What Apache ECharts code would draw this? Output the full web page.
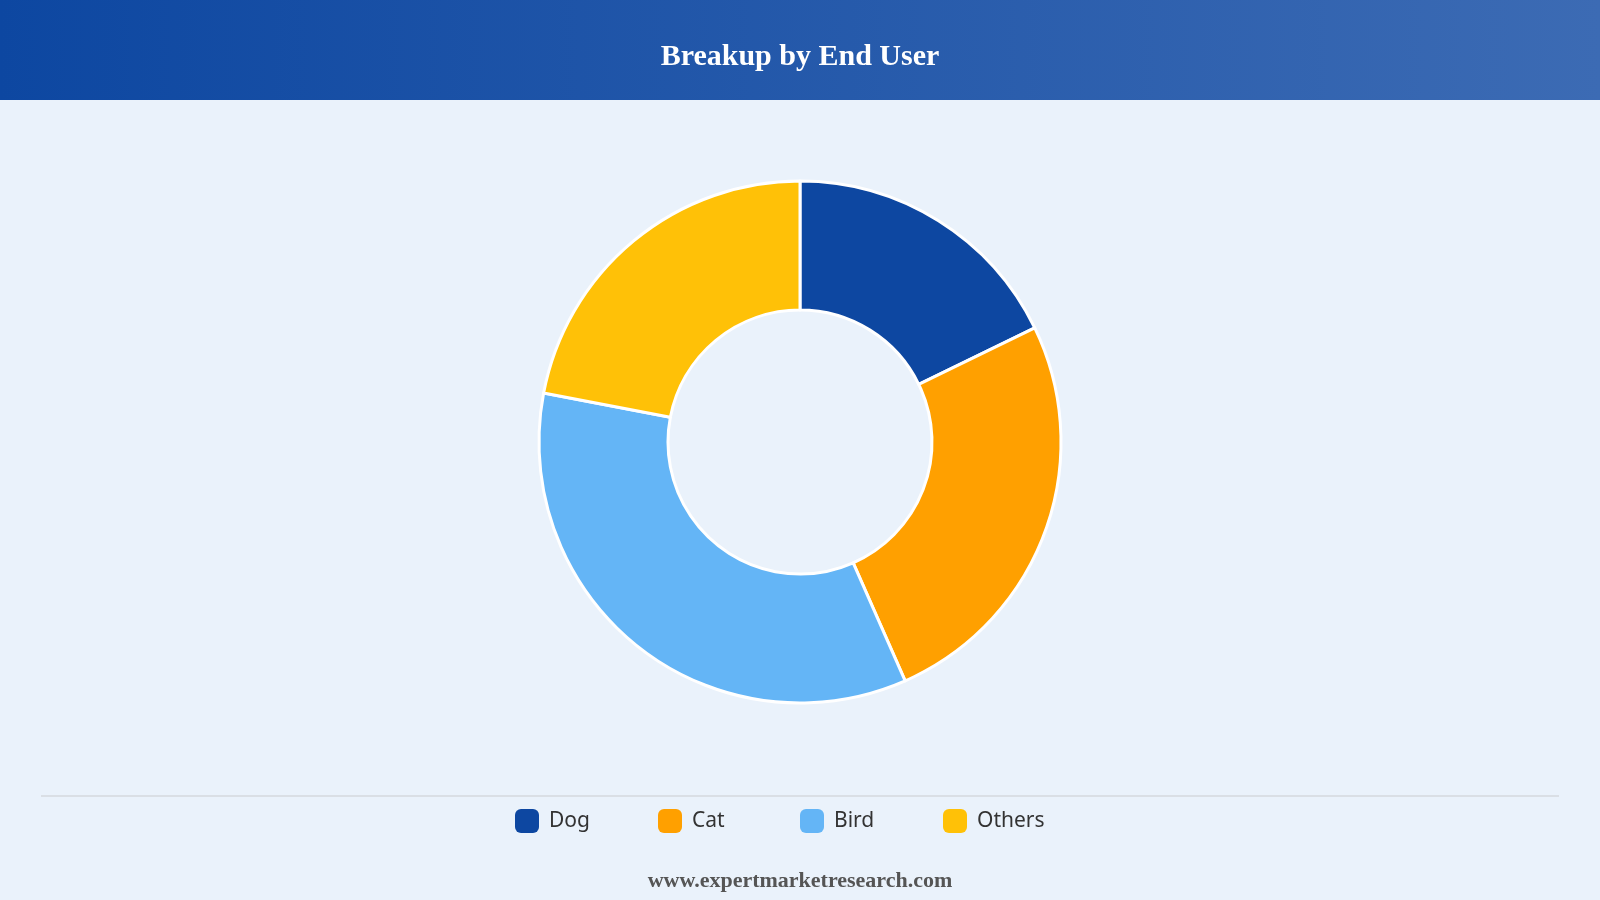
<!DOCTYPE html>
<html>
<head>
<meta charset="utf-8">
<script src="https://cdn.jsdelivr.net/npm/echarts@6/dist/echarts.min.js"></script>
<style>
html,body{margin:0;padding:0;background:#eaf2fb;}
#chart{width:1600px;height:900px;}
</style>
</head>
<body>
<div id="chart"></div>
<script>
const categories = ['Dog', 'Cat', 'Bird', 'Others'];
const values = [17.8, 25.6, 34.6, 22.0];
const colors = ['#0d47a1', '#ffa000', '#64b5f6', '#ffc107'];
const titleText = 'Breakup by End User';
const footerText = 'www.expertmarketresearch.com';

const legendLeft0 = 515;
const legendStep = 142.5;

const chart = echarts.init(document.getElementById('chart'), null, {renderer: 'canvas'});
chart.setOption({
  backgroundColor: '#eaf2fb',
  animation: false,
  graphic: [
    {
      type: 'rect', left: 0, top: 0, z: 0,
      shape: {width: 1600, height: 100},
      style: {
        fill: new echarts.graphic.LinearGradient(0, 0, 1, 0, [
          {offset: 0, color: '#0d47a1'},
          {offset: 1, color: '#3c6bb4'}
        ])
      }
    },
    {
      type: 'line', z: 1,
      shape: {x1: 41, y1: 796, x2: 1559, y2: 796},
      style: {stroke: '#d5d9de', lineWidth: 1.5}
    },
    {
      type: 'text', left: 'center', top: 870, z: 2,
      style: {
        text: footerText,
        font: 'bold 22px "Liberation Serif", "Times New Roman", serif',
        fill: '#555555'
      }
    }
  ],
  title: {
    text: titleText,
    left: 'center',
    top: 37,
    textStyle: {
      color: '#ffffff',
      fontFamily: '"Liberation Serif", "Times New Roman", serif',
      fontWeight: 'bold',
      fontSize: 30
    }
  },
  legend: categories.map((c, i) => ({
    data: [c],
    left: Math.round(legendLeft0 + i * legendStep),
    top: 809,
    orient: 'horizontal',
    icon: 'roundRect',
    itemWidth: 24,
    itemHeight: 24,
    itemStyle: {borderWidth: 0},
    padding: 0,
    textStyle: {
      fontFamily: '"Noto Sans", "Open Sans", sans-serif',
      fontSize: 21,
      color: '#333333',
      padding: [0, 0, 0, 5]
    }
  })),
  series: [{
    type: 'pie',
    center: [800, 442],
    radius: [132, 261],
    startAngle: 90,
    clockwise: true,
    label: {show: false},
    labelLine: {show: false},
    emphasis: {disabled: true},
    itemStyle: {borderColor: '#ffffff', borderWidth: 3},
    data: categories.map((c, i) => ({name: c, value: values[i], itemStyle: {color: colors[i]}}))
  }]
});
</script>
</body>
</html>
